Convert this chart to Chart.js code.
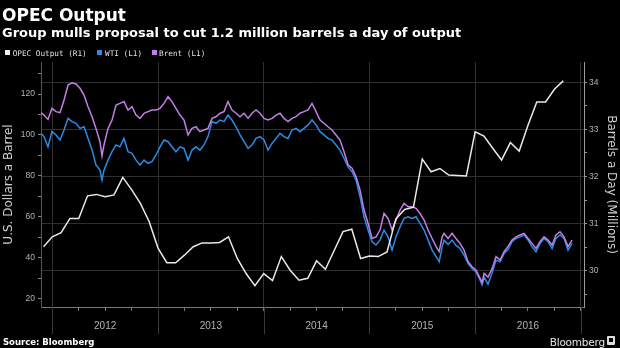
<!DOCTYPE html>
<html>
<head>
<meta charset="utf-8">
<script src="https://cdn.jsdelivr.net/npm/chart.js@4.4.1/dist/chart.umd.min.js"></script>
<style>
  body { margin: 0; background: #000; }
  #wrap { position: relative; width: 620px; height: 348px; overflow: hidden; background: #000; }
  #chart { position: absolute; left: 0; top: 0; }
  .txt { position: absolute; white-space: nowrap; line-height: 1; }
  #title { left: 2px; top: 5px; font: bold 17px "DejaVu Sans", sans-serif; color: #fff; }
  #sub { left: 2px; top: 25px; font: bold 13px "DejaVu Sans", sans-serif; color: #fff; }
  .lg { top: 48.6px; font: 7.7px "DejaVu Sans Mono", monospace; color: #e2e2e2; }
  .sw { position: absolute; top: 49.5px; width: 5px; height: 5px; }
  #src { left: 3px; top: 337px; font: bold 8.5px "DejaVu Sans", sans-serif; color: #fff; }
  #brand { right: 15px; top: 336px; font: 10.5px "DejaVu Sans", sans-serif; color: #e6e6e6; letter-spacing: -0.2px; }
  #logo { position: absolute; left: 607px; top: 336px; width: 8px; height: 9px; background: #ddd; border-radius: 1px; }
  #logo i { position: absolute; left: 2px; top: 2px; width: 4px; height: 4px; background: #000; }
</style>
</head>
<body>
<div id="wrap">
  <canvas id="chart" width="620" height="348"></canvas>
  <div class="txt" id="title">OPEC Output</div>
  <div class="txt" id="sub">Group mulls proposal to cut 1.2 million barrels a day of output</div>
  <span class="sw" style="left:5px;background:#f2f2f2"></span>
  <span class="txt lg" style="left:12.7px">OPEC Output (R1)</span>
  <span class="sw" style="left:97px;background:#2b8be6"></span>
  <span class="txt lg" style="left:105px">WTI (L1)</span>
  <span class="sw" style="left:152px;background:#c47fe6"></span>
  <span class="txt lg" style="left:159px">Brent (L1)</span>
  <div class="txt" id="src">Source: Bloomberg</div>
  <div class="txt" id="brand">Bloomberg</div>
  <div id="logo"><i></i></div>
</div>
<script>
// OPEC crude output, million barrels a day (month end)
const opecMonths = [
  '2011-11','2011-12',
  '2012-01','2012-02','2012-03','2012-04','2012-05','2012-06','2012-07','2012-08','2012-09','2012-10','2012-11','2012-12',
  '2013-01','2013-02','2013-03','2013-04','2013-05','2013-06','2013-07','2013-08','2013-09','2013-10','2013-11','2013-12',
  '2014-01','2014-02','2014-03','2014-04','2014-05','2014-06','2014-07','2014-08','2014-09','2014-10','2014-11','2014-12',
  '2015-01','2015-02','2015-03','2015-04','2015-05','2015-06','2015-07','2015-08','2015-09','2015-10','2015-11','2015-12',
  '2016-01','2016-02','2016-03','2016-04','2016-05','2016-06','2016-07','2016-08','2016-09','2016-10'
];
const opecOutput = [
  30.51, 30.72,
  30.81, 31.11, 31.11, 31.59, 31.62, 31.57, 31.61, 31.98, 31.72, 31.43, 31.04, 30.48,
  30.17, 30.17, 30.33, 30.51, 30.59, 30.59, 30.60, 30.72, 30.26, 29.94, 29.68, 29.94,
  29.79, 30.30, 30.01, 29.80, 29.84, 30.21, 30.03, 30.43, 30.83, 30.88, 30.26, 30.31,
  30.30, 30.40, 31.10, 31.30, 31.35, 32.37, 32.10, 32.17, 32.03, 32.02, 32.01, 32.95,
  32.86, 32.60, 32.35, 32.72, 32.54, 33.09, 33.58, 33.58, 33.85, 34.03
];

// crude prices, dollars a barrel, sampled roughly every two weeks (decimal years)
const priceTimes = [
  2011.893, 2011.921, 2011.959, 2011.997, 2012.035, 2012.073, 2012.111, 2012.149, 2012.186, 2012.224,
  2012.262, 2012.300, 2012.338, 2012.376, 2012.413, 2012.451, 2012.470, 2012.489, 2012.527, 2012.565,
  2012.603, 2012.640, 2012.678, 2012.716, 2012.754, 2012.792, 2012.830, 2012.868, 2012.905, 2012.943,
  2012.981, 2013.019, 2013.057, 2013.095, 2013.132, 2013.170, 2013.208, 2013.246, 2013.284, 2013.322,
  2013.359, 2013.397, 2013.435, 2013.473, 2013.511, 2013.549, 2013.587, 2013.624, 2013.662, 2013.700,
  2013.738, 2013.776, 2013.814, 2013.852, 2013.889, 2013.927, 2013.965, 2014.003, 2014.041, 2014.079,
  2014.117, 2014.154, 2014.192, 2014.230, 2014.268, 2014.306, 2014.343, 2014.381, 2014.419, 2014.457,
  2014.495, 2014.533, 2014.570, 2014.608, 2014.646, 2014.684, 2014.722, 2014.760, 2014.798, 2014.836,
  2014.873, 2014.911, 2014.949, 2014.987, 2015.025, 2015.063, 2015.100, 2015.138, 2015.176, 2015.214,
  2015.252, 2015.290, 2015.328, 2015.366, 2015.403, 2015.441, 2015.479, 2015.517, 2015.555, 2015.593,
  2015.631, 2015.660, 2015.688, 2015.706, 2015.744, 2015.782, 2015.819, 2015.857, 2015.895, 2015.933,
  2015.971, 2016.009, 2016.047, 2016.066, 2016.085, 2016.122, 2016.160, 2016.198, 2016.236, 2016.274,
  2016.312, 2016.349, 2016.387, 2016.425, 2016.463, 2016.501, 2016.538, 2016.576, 2016.614, 2016.652,
  2016.690, 2016.728, 2016.765, 2016.803, 2016.841, 2016.879, 2016.917
];
const wtiPrices = [
  100.8, 99.2, 94.2, 101.6, 100.0, 97.5, 102.4, 108.1, 106.5, 105.7,
  103.2, 104.0, 98.3, 92.6, 85.3, 82.8, 78.0, 82.8, 87.7, 91.8,
  95.1, 94.2, 98.3, 91.8, 91.0, 87.7, 85.3, 87.7, 86.1, 86.9,
  90.2, 94.2, 97.5, 96.7, 94.2, 91.8, 94.2, 93.4, 87.7, 92.6,
  94.2, 92.6, 95.1, 99.2, 106.5, 105.7, 107.3, 106.5, 109.7, 107.3,
  104.0, 100.0, 96.7, 93.4, 95.1, 98.3, 99.2, 97.5, 92.6, 95.9,
  98.3, 100.8, 99.2, 98.3, 102.4, 103.2, 101.6, 103.2, 104.9, 107.3,
  104.9, 101.6, 100.0, 98.3, 97.5, 95.1, 92.6, 88.5, 84.4, 82.0,
  78.0, 69.8, 60.0, 53.5, 47.8, 46.2, 48.6, 53.5, 50.2, 43.7,
  50.2, 55.1, 59.2, 60.0, 59.2, 60.0, 56.8, 53.5, 48.6, 43.7,
  40.5, 38.0, 45.4, 48.5, 46.5, 48.6, 46.0, 44.5, 41.3, 37.2,
  34.7, 33.1, 29.0, 26.8, 30.5, 27.0, 32.5, 38.8, 38.0, 42.1,
  44.0, 47.8, 49.4, 50.2, 51.1, 48.6, 45.4, 42.9, 47.0, 49.4,
  47.8, 44.5, 49.4, 51.1, 49.4, 43.7, 47.0
];
const brentPrices = [
  110.9, 109.7, 107.6, 113.0, 111.4, 110.9, 117.1, 124.4, 125.5, 124.9,
  122.8, 119.5, 113.8, 108.9, 103.2, 96.7, 89.7, 95.1, 103.2, 107.3,
  114.6, 115.4, 116.3, 112.2, 113.8, 109.7, 108.1, 110.6, 111.4, 112.2,
  112.2, 113.0, 115.4, 118.7, 116.3, 113.0, 109.7, 107.3, 100.0, 103.2,
  104.0, 101.6, 102.4, 103.2, 108.1, 108.9, 110.6, 111.4, 116.3, 112.2,
  110.6, 108.9, 110.6, 108.1, 110.6, 112.2, 110.6, 108.1, 107.3, 108.1,
  109.7, 110.6, 108.1, 106.5, 108.1, 108.9, 110.6, 111.4, 112.2, 115.4,
  111.4, 107.3, 105.7, 104.0, 102.4, 100.0, 97.5, 91.8, 85.3, 83.7,
  79.6, 73.1, 63.3, 56.8, 49.4, 50.2, 53.5, 61.6, 59.2, 53.5,
  58.4, 63.3, 66.5, 64.9, 64.9, 64.1, 61.6, 58.4, 53.5, 49.4,
  45.4, 43.0, 50.2, 51.9, 49.4, 51.9, 49.4, 47.0, 43.7, 38.0,
  35.6, 33.9, 29.9, 27.8, 32.3, 30.5, 34.5, 40.5, 38.8, 42.9,
  45.5, 48.6, 50.2, 51.1, 51.9, 49.4, 47.0, 44.5, 47.8, 50.2,
  48.6, 46.2, 51.1, 52.7, 50.2, 45.4, 48.6
];

const yearLabels = ['2012', '2013', '2014', '2015', '2016'];
const leftTicks = [20, 40, 60, 80, 100, 120];
const rightTicks = [30, 31, 32, 33, 34];

const monthEnd = s => { const [y, m] = s.split('-').map(Number); return y + m / 12; };
const opecPoints = opecMonths.map((m, i) => ({ x: monthEnd(m), y: opecOutput[i] }));
const wtiPoints = priceTimes.map((t, i) => ({ x: t, y: wtiPrices[i] }));
const brentPoints = priceTimes.map((t, i) => ({ x: t, y: brentPrices[i] }));

const tickFont = { family: '"Liberation Sans", Arial, sans-serif', size: 8.5 };
const titleFont = { family: '"DejaVu Sans", sans-serif', size: 12 };
const gridGray = '#2f2f2f';

// year separators carry on down through the label row
const yearDividers = {
  id: 'yearDividers',
  afterDraw(chart) {
    const xs = chart.scales.x, ctx = chart.ctx;
    ctx.save();
    ctx.strokeStyle = '#3a3a3a';
    ctx.lineWidth = 1;
    for (let y = 2012; y <= 2017; y++) {
      const px = Math.round(xs.getPixelForValue(y)) + 0.5;
      if (px < xs.left || px > xs.right) continue;
      ctx.beginPath();
      ctx.moveTo(px, xs.top);
      ctx.lineTo(px, xs.top + 27);
      ctx.stroke();
    }
    ctx.restore();
  }
};

new Chart(document.getElementById('chart'), {
  type: 'line',
  data: {
    datasets: [
      { label: 'OPEC Output (R1)', data: opecPoints, yAxisID: 'yR', borderColor: '#ebe9e3', borderWidth: 1.5, pointRadius: 0, tension: 0, order: 0 },
      { label: 'WTI (L1)', data: wtiPoints, yAxisID: 'yL', borderColor: '#2b8be6', borderWidth: 1.5, pointRadius: 0, tension: 0, order: 2 },
      { label: 'Brent (L1)', data: brentPoints, yAxisID: 'yL', borderColor: '#c47fe6', borderWidth: 1.5, pointRadius: 0, tension: 0, order: 1 },
    ],
  },
  options: {
    responsive: false,
    animation: false,
    devicePixelRatio: 1,
    layout: { padding: { top: 62, left: 0, right: 0, bottom: 0 } },
    plugins: { legend: { display: false }, tooltip: { enabled: false }, title: { display: false } },
    scales: {
      x: {
        type: 'linear',
        min: 2011.893,
        max: 2017.03,
        afterBuildTicks: scale => {
          const t = [];
          yearLabels.forEach(y => { for (let q = 0; q < 4; q++) t.push({ value: Number(y) + q / 4 }); });
          t.push({ value: 2017 });
          scale.ticks = t;
        },
        afterFit: scale => { scale.height = 41; },
        ticks: {
          autoSkip: false,
          maxRotation: 0,
          color: '#b4b4b4',
          padding: 9,
          font: { family: '"Liberation Sans", Arial, sans-serif', size: 10 },
          callback: v => (v % 1 === 0.5 ? String(Math.floor(v)) : ''),
        },
        grid: {
          color: c => (c.tick && Number.isInteger(c.tick.value) ? gridGray : 'transparent'),
          tickColor: '#777',
          tickLength: 4,
        },
        border: { color: '#777' },
      },
      yL: {
        position: 'left',
        min: 15.9,
        max: 135.65,
        afterBuildTicks: scale => {
          const t = [];
          for (let v = 20; v <= 130; v += 10) t.push({ value: v });
          scale.ticks = t;
        },
        afterFit: scale => { scale.width = 41; },
        ticks: {
          color: '#b4b4b4',
          padding: 3,
          font: tickFont,
          callback: v => (leftTicks.includes(v) ? String(v) : ''),
        },
        grid: { drawOnChartArea: false, tickColor: '#888', tickLength: 3 },
        border: { color: '#555' },
        title: { display: true, text: 'U.S. Dollars a Barrel', color: '#d0d0d0', font: titleFont, padding: { top: 2, bottom: 0 } },
      },
      yR: {
        position: 'right',
        min: 29.23,
        max: 34.43,
        afterBuildTicks: scale => {
          const t = [];
          for (let v = 29.5; v <= 34; v += 0.5) t.push({ value: v });
          scale.ticks = t;
        },
        afterFit: scale => { scale.width = 36; },
        ticks: {
          color: '#b4b4b4',
          padding: 2,
          font: tickFont,
          callback: v => (rightTicks.includes(v) ? String(v) : ''),
        },
        grid: {
          color: c => (c.tick && Number.isInteger(c.tick.value) ? gridGray : 'transparent'),
          tickColor: '#999',
          tickLength: 3,
        },
        border: { color: '#9a9a9a' },
        title: { display: true, text: 'Barrels a Day (Millions)', color: '#d0d0d0', font: titleFont, padding: { top: 2, bottom: 0 } },
      },
    },
  },
  plugins: [yearDividers],
});
</script>
</body>
</html>
